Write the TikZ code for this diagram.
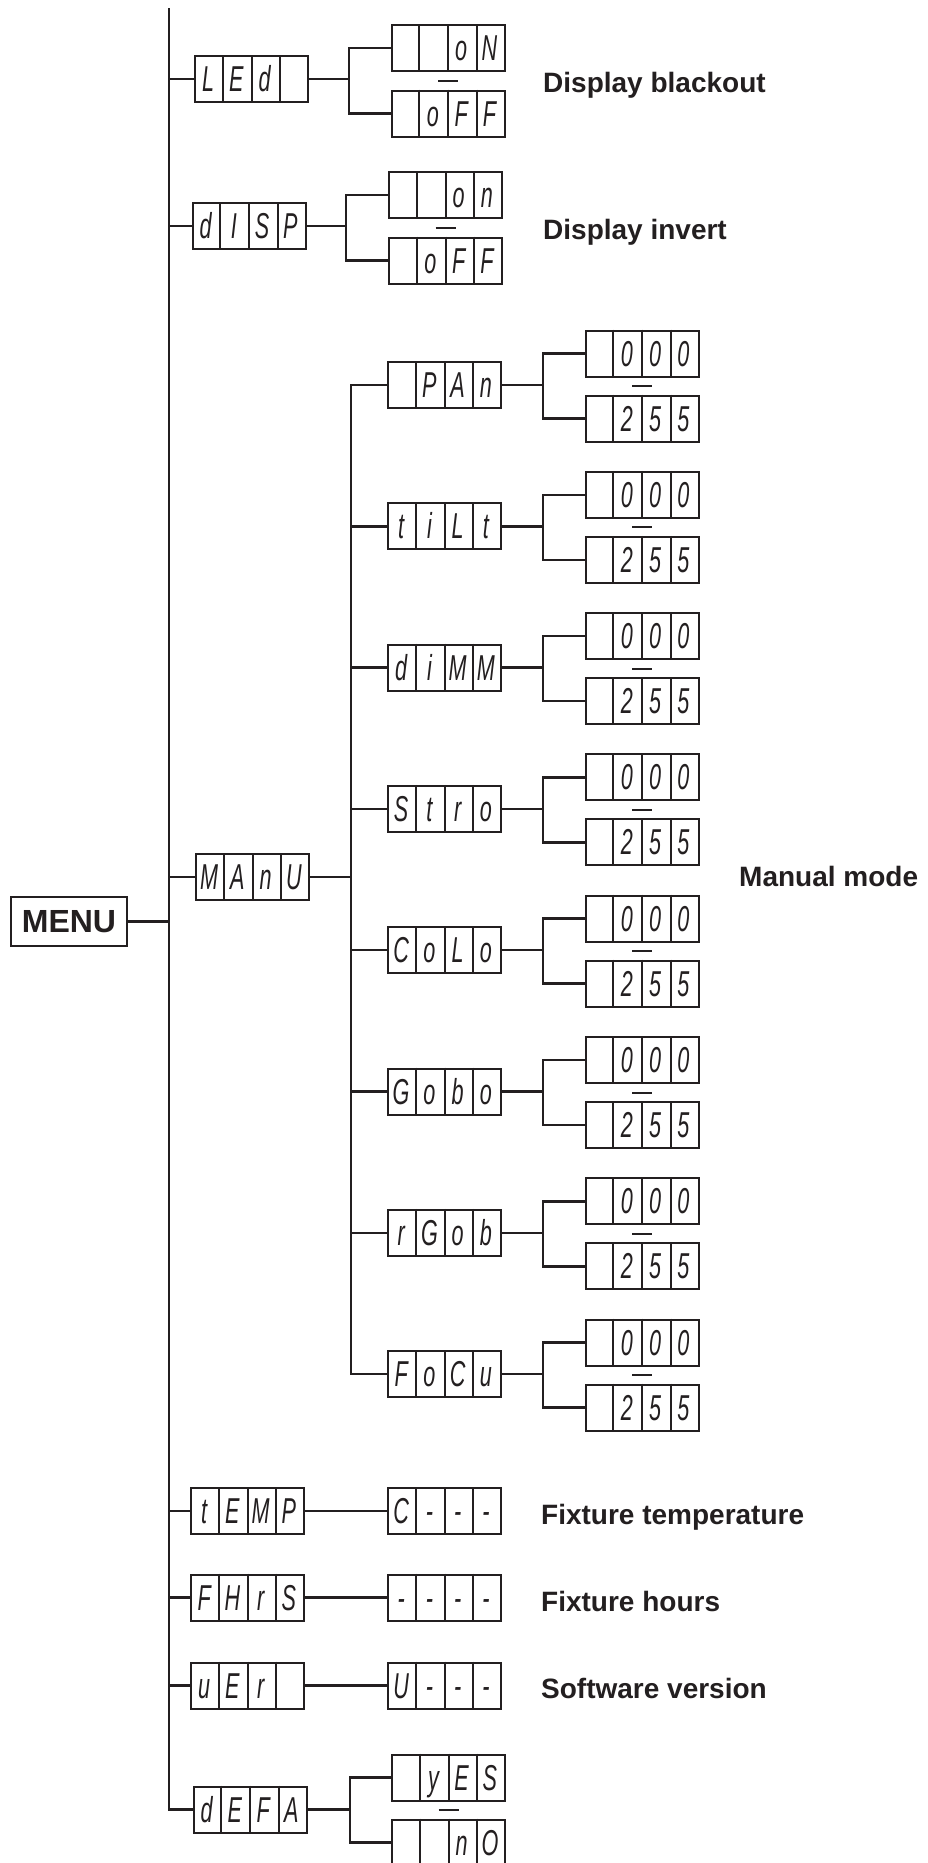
\documentclass[tikz,border=0pt]{standalone}
\usepackage{fontspec}
\usepackage{graphicx}
\usetikzlibrary{calc}
\setmainfont{Liberation Sans}
\newfontfamily\segfont{Liberation Sans}
\definecolor{ink}{HTML}{231F20}
\newcommand\segch[1]{\scalebox{0.6}[1]{#1}}
\newcommand\segdisp[7][]{%
  \node[dispbox,#1] (#2) at (#3) {};
  \foreach \ci in {1,2,3}{\draw[cell] ($(#2.north west)!\ci/4!(#2.north east)$) -- ($(#2.south west)!\ci/4!(#2.south east)$);}
  \node[segtxt] (#2-1) at ($(#2.west)+(14.1,12.5)$) {\segch{#4}};
  \node[segtxt] (#2-2) at ($(#2.west)+(42.4,12.5)$) {\segch{#5}};
  \node[segtxt] (#2-3) at ($(#2.west)+(70.6,12.5)$) {\segch{#6}};
  \node[segtxt] (#2-4) at ($(#2.west)+(98.9,12.5)$) {\segch{#7}};
}
\newcommand\manuitem[6]{%
  \segdisp{#1}{444.5,#2}{#3}{#4}{#5}{#6}
  \segdisp{#1-lo}{642,#2-31.5}{}{0}{0}{0}
  \segdisp{#1-hi}{642,#2+33.5}{}{2}{5}{5}
  \coordinate (#1-b) at (543,#2);
  \draw[conn] (#1.east) -- (#1-b);
  \draw[conn] (#1-lo.west) -| (#1-b) |- (#1-hi.west);
  \draw[sep] ($(#1-lo.south)!0.5!(#1-hi.north)$) ++(-10,0) -- ++(20,0);
}
\begin{document}
\begin{tikzpicture}[x=1pt,y=-1pt,
  conn/.style={draw=ink,line width=2.5pt},
  dispbox/.style={draw=ink,line width=2pt,minimum width=113pt,minimum height=46pt,inner sep=0pt},
  cell/.style={draw=ink,line width=2pt},
  sep/.style={draw=ink,line width=2pt},
  segtxt/.style={font=\segfont\itshape\fontsize{36pt}{36pt}\selectfont,text=ink,anchor=base,inner sep=0pt},
  lbl/.style={font=\bfseries\fontsize{28pt}{28pt}\selectfont,text=ink,anchor=base west,inner sep=0pt}]
\useasboundingbox (0,0) rectangle (927,1863);

% MENU
\node[draw=ink,line width=2.5pt,minimum width=116pt,minimum height=49pt,inner sep=0pt,
  font=\bfseries\fontsize{32pt}{32pt}\selectfont,text=ink] (menu) at (69,921.5) {MENU};
\coordinate (mtop) at (169,8);

% top-level displays
\segdisp{led}{251.5,79}{L}{E}{d}{}
\segdisp{disp}{249,226}{d}{I}{S}{P}
\segdisp{manu}{252.5,877}{M}{A}{n}{U}
\segdisp{temp}{247.5,1511}{t}{E}{M}{P}
\segdisp{fhrs}{247.5,1597.5}{F}{H}{r}{S}
\segdisp{uer}{247.5,1685.5}{u}{E}{r}{}
\segdisp{defa}{250,1809.5}{d}{E}{F}{A}

% main spine
\draw[conn] (mtop) |- (defa.west);
\draw[conn] (menu.east) -- (menu.east -| mtop);
\foreach \nm in {led,disp,manu,temp,fhrs,uer}{\draw[conn] (\nm.west) -- (\nm.west -| mtop);}

% LEd
\segdisp{led-on}{448,48}{}{}{o}{N}
\segdisp{led-off}{448,113.5}{}{o}{F}{F}
\coordinate (led-b) at (349,79);
\draw[conn] (led.east) -- (led-b);
\draw[conn] (led-on.west) -| (led-b) |- (led-off.west);
\draw[sep] ($(led-on.south)!0.5!(led-off.north)$) ++(-10,0) -- ++(20,0);

% dISP
\segdisp{disp-on}{445.5,195}{}{}{o}{n}
\segdisp{disp-off}{445.5,260.5}{}{o}{F}{F}
\coordinate (disp-b) at (346,226);
\draw[conn] (disp.east) -- (disp-b);
\draw[conn] (disp-on.west) -| (disp-b) |- (disp-off.west);
\draw[sep] ($(disp-on.south)!0.5!(disp-off.north)$) ++(-10,0) -- ++(20,0);

% MANU sub menu
\manuitem{pan}{385}{}{P}{A}{n}
\manuitem{tilt}{526.3}{t}{i}{L}{t}
\manuitem{dimm}{667.6}{d}{i}{M}{M}
\manuitem{stro}{808.9}{S}{t}{r}{o}
\manuitem{colo}{950.2}{C}{o}{L}{o}
\manuitem{gobo}{1091.5}{G}{o}{b}{o}
\manuitem{rgob}{1232.8}{r}{G}{o}{b}
\manuitem{focu}{1374.1}{F}{o}{C}{u}
\coordinate (manu-b) at (351,877);
\draw[conn] (manu.east) -- (manu-b);
\draw[conn] (pan.west) -| (manu-b) |- (focu.west);
\foreach \nm in {tilt,dimm,stro,colo,gobo,rgob}{\draw[conn] (\nm.west) -- (\nm.west -| manu-b);}

% readouts
\segdisp{temp-v}{444.5,1511}{C}{-}{-}{-}
\segdisp{fhrs-v}{444.5,1597.5}{-}{-}{-}{-}
\segdisp{uer-v}{444.5,1685.5}{U}{-}{-}{-}
\draw[conn] (temp.east) -- (temp-v.west);
\draw[conn] (fhrs.east) -- (fhrs-v.west);
\draw[conn] (uer.east) -- (uer-v.west);

% dEFA
\segdisp{defa-yes}{448.5,1777.5}{}{y}{E}{S}
\segdisp{defa-no}{448.5,1842.5}{}{}{n}{O}
\coordinate (defa-b) at (350,1809.5);
\draw[conn] (defa.east) -- (defa-b);
\draw[conn] (defa-yes.west) -| (defa-b) |- (defa-no.west);
\draw[sep] ($(defa-yes.south)!0.5!(defa-no.north)$) ++(-10,0) -- ++(20,0);

% labels
\node[lbl] (l-black) at (543,92) {Display blackout};
\node[lbl] (l-inv) at (543,239) {Display invert};
\node[lbl] (l-man) at (739,886) {Manual mode};
\node[lbl] (l-temp) at (541,1524) {Fixture temperature};
\node[lbl] (l-hrs) at (541,1611) {Fixture hours};
\node[lbl] (l-ver) at (541,1698) {Software version};
\end{tikzpicture}
\end{document}
